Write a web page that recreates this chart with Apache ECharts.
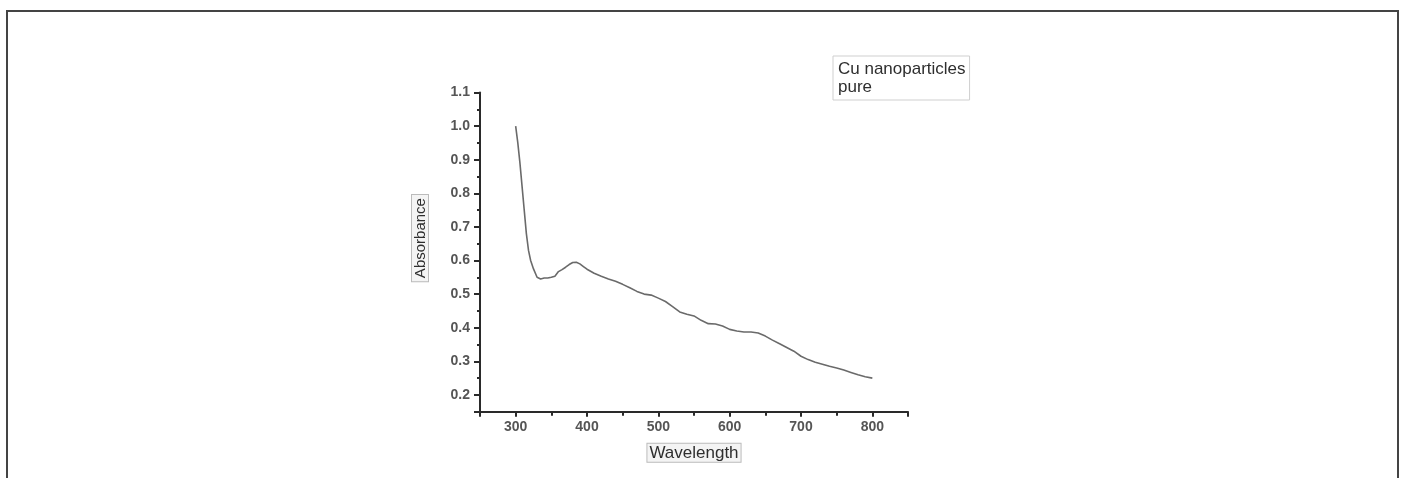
<!DOCTYPE html>
<html>
<head>
<meta charset="utf-8">
<script src="https://cdn.jsdelivr.net/npm/echarts@6/dist/echarts.min.js"></script>
<style>
  html, body { margin: 0; padding: 0; background: #fff; overflow: hidden; }
  #frame { position: absolute; left: 6px; top: 10px; width: 1393px; height: 520px;
           border: 2px solid #444; box-sizing: border-box; }
  #chart { position: absolute; left: 0; top: 0; width: 1405px; height: 478px; }
</style>
</head>
<body>
<div id="frame"></div>
<div id="chart"></div>
<script>
// Wavelength (nm)
const wavelength = [300,303,306,309,312,315,318,321,325,330,335,340,345,350,355,360,365,370,375,380,385,390,395,400,
  410,420,430,440,450,460,470,480,490,500,510,520,530,540,550,560,570,580,590,600,610,620,630,640,650,660,670,680,690,
  700,710,720,730,740,750,760,770,780,790,800];
// Absorbance
const absorbance = [1.00,0.95,0.89,0.82,0.75,0.68,0.63,0.60,0.575,0.55,0.545,0.548,0.548,0.55,0.553,0.567,0.573,0.58,0.588,0.594,0.595,0.59,0.582,0.574,
  0.562,0.553,0.545,0.538,0.529,0.519,0.508,0.500,0.497,0.488,0.478,0.463,0.447,0.440,0.435,0.422,0.412,0.411,0.405,0.395,0.390,0.387,0.387,0.384,0.375,0.363,0.352,0.341,0.330,
  0.315,0.305,0.297,0.291,0.285,0.280,0.274,0.267,0.260,0.254,0.250];
const seriesName = 'Cu nanoparticles\npure';
const xName = 'Wavelength';
const yName = 'Absorbance';

const chart = echarts.init(document.getElementById('chart'), null, { renderer: 'canvas' });
const font = 'Liberation Sans, Arial, sans-serif';
const axisCol = '#2a2a2a';

chart.setOption({
  animation: false,
  backgroundColor: 'transparent',
  grid: { left: 480, top: 92.5, right: 497, bottom: 66.3, containLabel: false },
  legend: {
    data: [{ name: seriesName, icon: 'none' }],
    left: 833, top: 56,
    itemWidth: 0, itemGap: 0,
    padding: [4, 4, 4, 0],
    borderColor: '#cfcfcf', borderWidth: 1,
    textStyle: { fontFamily: font, fontSize: 17, color: '#2e2e2e', lineHeight: 18, padding: 0 },
    selectedMode: false
  },
  xAxis: {
    type: 'value', min: 250, max: 850, splitNumber: 6,
    name: xName, nameLocation: 'middle', nameGap: 32,
    nameTextStyle: { fontFamily: font, fontSize: 17, color: '#2e2e2e', borderColor: '#bbb', borderWidth: 1,
      backgroundColor: '#f4f4f4', padding: [1, 2, 0, 2] },
    axisLine: { lineStyle: { color: axisCol, width: 2 } },
    axisTick: { show: true, length: 5, lineStyle: { color: axisCol, width: 2 } },
    minorTick: { show: true, splitNumber: 2, length: 4, lineStyle: { color: axisCol, width: 2 } },
    axisLabel: { fontFamily: font, fontSize: 14, fontWeight: 'bold', color: '#555', margin: 8,
      showMinLabel: false, showMaxLabel: false },
    splitLine: { show: false }
  },
  yAxis: {
    type: 'value', min: 0.15, max: 1.1, splitNumber: 10,
    name: '{b|' + yName + '}', nameLocation: 'middle', nameGap: 52, nameRotate: 90,
    nameTextStyle: { padding: [0, 0, 0, 28],
      rich: { b: { fontFamily: font, fontSize: 15, color: '#2e2e2e', borderColor: '#bbb', borderWidth: 1,
        backgroundColor: '#f4f4f4', padding: [1, 3, 0, 3] } } },
    axisLine: { lineStyle: { color: axisCol, width: 2 } },
    axisTick: { show: true, length: 6, lineStyle: { color: axisCol, width: 2 } },
    minorTick: { show: true, splitNumber: 2, length: 3, lineStyle: { color: axisCol, width: 2 } },
    axisLabel: { fontFamily: font, fontSize: 14, fontWeight: 'bold', color: '#555', margin: 10,
      showMinLabel: false, formatter: v => v.toFixed(1) },
    splitLine: { show: false }
  },
  series: [{
    name: seriesName,
    type: 'line',
    data: wavelength.map((w, i) => [w, absorbance[i]]),
    showSymbol: false,
    smooth: false,
    lineStyle: { color: '#6a6a6a', width: 1.6 },
    itemStyle: { color: '#6a6a6a' }
  }]
});
</script>
</body>
</html>
